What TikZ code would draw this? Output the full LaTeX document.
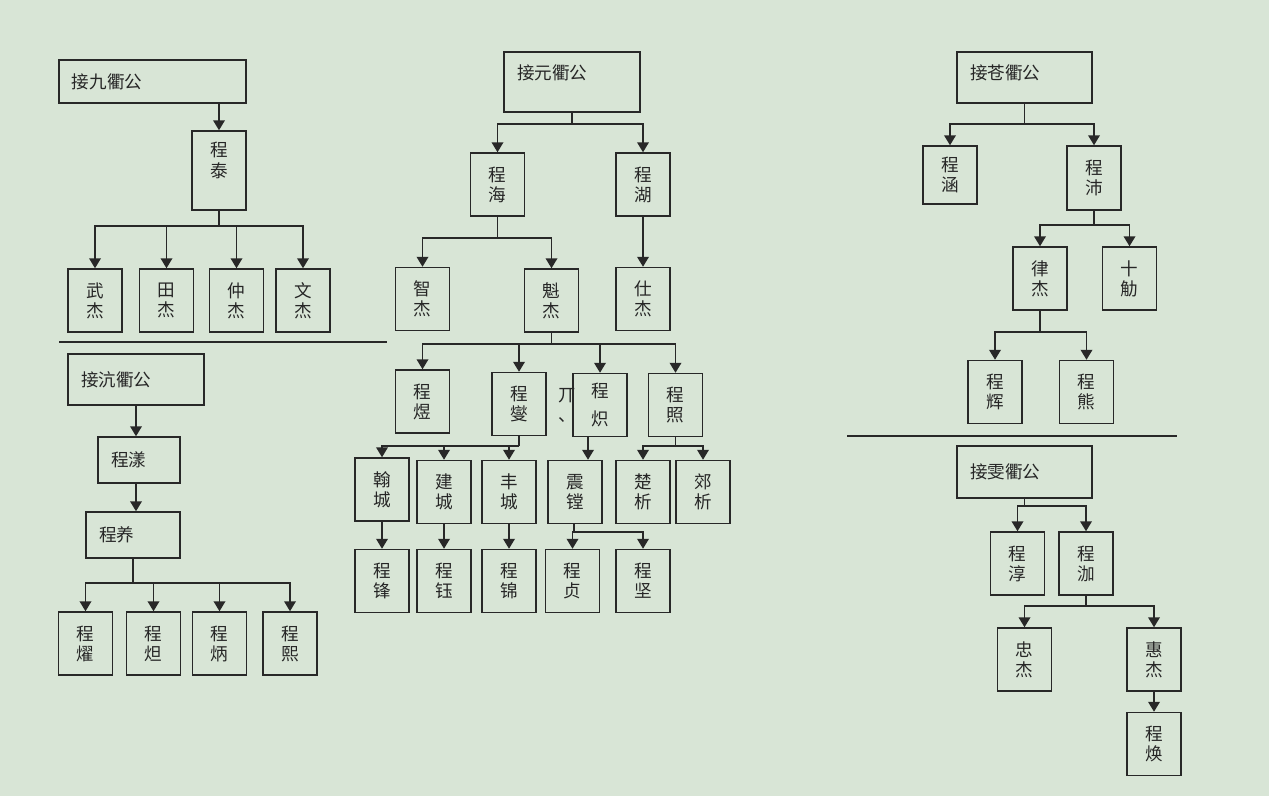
\documentclass[tikz,border=0pt]{standalone}
\usepackage{fontspec}
\setmainfont{Noto Sans CJK SC}
\usetikzlibrary{positioning,arrows.meta}
\definecolor{bgcol}{RGB}{216,229,214}
\definecolor{inkcol}{RGB}{40,40,40}
\tikzset{
  flowarrow/.style={-{Triangle[width=2.3mm,length=2mm]}, line width=1.1pt, draw=inkcol},
  stemline/.style={line width=0.6pt, draw=inkcol},
  sepline/.style={line width=0.6pt, draw=inkcol},
  kidbox/.style={draw=inkcol, line width=0.8pt, minimum width=10.8mm, minimum height=12.6mm, align=center, inner sep=0pt},
  headbox/.style={draw=inkcol, line width=0.8pt, align=left, inner xsep=2.6mm, inner ysep=0pt}
}

\begin{document}
\begin{tikzpicture}[x=0.2mm, y=-0.2mm, every node/.style={font=\fontsize{10}{11.4}\selectfont, text=black!85}]
  \fill[bgcol] (0,0) rectangle (1269,796);
  \useasboundingbox (0,0) rectangle (1269,796);

  \node[headbox, text width=32.2mm, minimum height=8.6mm] (jiujiu) at (152.5,81.5) {接九衢公};
  \node[kidbox, minimum height=15.8mm, text depth=4.3mm] (chengtai) at (219,170.5) {程\\泰};
  \node[kidbox] (wujie) at (95,300.5) {武\\杰};
  \node[kidbox] (tianjie) at (166.5,300.5) {田\\杰};
  \node[kidbox] (zhongjie) at (236.5,300.5) {仲\\杰};
  \node[kidbox] (wenjie) at (303,300.5) {文\\杰};
  \coordinate (taibus) at (219,226);
  \draw[flowarrow] (jiujiu.south -| chengtai.north) -- (chengtai.north);
  \draw[stemline] (chengtai) -- (taibus);
  \foreach \k in {wujie,tianjie,zhongjie,wenjie}
    \draw[flowarrow] (taibus) -| (\k.north);
  \draw[sepline] (59,342) -- (387,342);

  \node[headbox, text width=22mm, minimum height=10.2mm] (hanghead) at (136,379.5) {接沆衢公};
  \node[headbox, text width=11.2mm, minimum height=9.2mm] (chengyang) at (139,460) {程漾};
  \node[headbox, text width=13.6mm, minimum height=9.2mm] (chengyang2) at (133,535) {程养};
  \node[kidbox] (chengyao) at (85.5,643.5) {程\\燿};
  \node[kidbox] (chengda) at (153.5,643.5) {程\\炟};
  \node[kidbox] (chengbing) at (219.5,643.5) {程\\炳};
  \node[kidbox] (chengxi) at (290,643.5) {程\\熙};
  \coordinate (yangbus) at (133,583);
  \draw[flowarrow] (hanghead) -- (hanghead |- chengyang.north);
  \draw[flowarrow] (chengyang.south -| hanghead) -- (hanghead |- chengyang2.north);
  \draw[stemline] (chengyang2) -- (yangbus);
  \foreach \k in {chengyao,chengda,chengbing,chengxi}
    \draw[flowarrow] (yangbus) -| (\k.north);

  \node[headbox, text width=22mm, minimum height=12mm, text depth=4mm] (yuanhead) at (572,82) {接元衢公};
  \node[kidbox] (chenghai) at (497.5,184.5) {程\\海};
  \node[kidbox] (chenghu) at (643,184.5) {程\\湖};
  \node[kidbox] (zhijie) at (422.5,299) {智\\杰};
  \node[kidbox] (kuijie) at (551.5,300.5) {魁\\杰};
  \node[kidbox] (shijie) at (643,299) {仕\\杰};
  \coordinate (yuanbus) at (572,124);
  \coordinate (haibus) at (497.5,238);
  \draw[stemline] (yuanhead) -- (yuanbus);
  \draw[flowarrow] (yuanbus) -| (chenghai.north);
  \draw[flowarrow] (yuanbus) -| (chenghu.north);
  \draw[stemline] (chenghai) -- (haibus);
  \draw[flowarrow] (haibus) -| (zhijie.north);
  \draw[flowarrow] (haibus) -| (kuijie.north);
  \draw[flowarrow] (chenghu) -- (shijie);

  \node[align=center] (stray) at (567,405) {丌\\、};
  \node[kidbox] (chengyu) at (422.5,401.5) {程\\煜};
  \node[kidbox] (chengxie) at (519,404) {程\\燮};
  \node[kidbox] (chengchi) at (600,405) {程\\[1.6mm]炽};
  \node[kidbox] (chengzhao) at (675.5,405) {程\\照};
  \coordinate (kuibus) at (551.5,344);
  \draw[stemline] (kuijie) -- (kuibus);
  \foreach \k in {chengyu,chengxie,chengchi,chengzhao}
    \draw[flowarrow] (kuibus) -| (\k.north);

  \node[kidbox] (hancheng) at (382,489.5) {翰\\城};
  \node[kidbox] (jiancheng) at (444,492) {建\\城};
  \node[kidbox] (fengcheng) at (509,492) {丰\\城};
  \node[kidbox] (zhentang) at (575,492) {震\\镗};
  \node[kidbox] (chuxi) at (643,492) {楚\\析};
  \node[kidbox] (jiaoxi) at (703,492) {郊\\析};
  \coordinate (xiebus) at (519,446);
  \coordinate (chizhen) at (588,447);
  \coordinate (zhaobus) at (675.5,446);
  \draw[stemline] (chengxie) -- (xiebus);
  \foreach \k in {hancheng,jiancheng,fengcheng}
    \draw[flowarrow] (xiebus) -| (\k.north);
  \draw[flowarrow] (chengchi.south -| chizhen) -- (zhentang.north -| chizhen);
  \draw[stemline] (chengzhao) -- (zhaobus);
  \draw[flowarrow] (zhaobus) -| (chuxi.north);
  \draw[flowarrow] (zhaobus) -| (jiaoxi.north);

  \node[kidbox] (chengfeng) at (382,581) {程\\锋};
  \node[kidbox] (chengyu2) at (444,581) {程\\钰};
  \node[kidbox] (chengjin) at (509,581) {程\\锦};
  \node[kidbox] (chengzhen) at (572.5,581) {程\\贞};
  \node[kidbox] (chengjian) at (643,581) {程\\坚};
  \coordinate (zhenbus) at (574,532);
  \draw[flowarrow] (hancheng) -- (chengfeng);
  \draw[flowarrow] (jiancheng) -- (chengyu2);
  \draw[flowarrow] (fengcheng) -- (chengjin);
  \draw[stemline] (zhentang.south -| zhenbus) -- (zhenbus);
  \draw[flowarrow] (zhenbus) -| (chengzhen.north);
  \draw[flowarrow] (zhenbus) -| (chengjian.north);

  \node[headbox, text width=21.8mm, minimum height=10.2mm, text depth=2.2mm] (canghead) at (1024.5,77.5) {接苍衢公};
  \node[kidbox, minimum height=11.6mm] (chenghan) at (950,175) {程\\涵};
  \node[kidbox, minimum height=12.8mm] (chengpei) at (1094,178) {程\\沛};
  \node[kidbox] (lvjie) at (1040,278.5) {律\\杰};
  \node[kidbox] (shijin) at (1129.5,278.5) {十\\觔};
  \node[kidbox] (chenghui) at (995,392) {程\\辉};
  \node[kidbox] (chengxiong) at (1086.5,392) {程\\熊};
  \coordinate (cangbus) at (1024.5,124);
  \coordinate (peibus) at (1094,225);
  \coordinate (lvbus) at (1040,332);
  \draw[stemline] (canghead) -- (cangbus);
  \draw[flowarrow] (cangbus) -| (chenghan.north);
  \draw[flowarrow] (cangbus) -| (chengpei.north);
  \draw[stemline] (chengpei) -- (peibus);
  \draw[flowarrow] (peibus) -| (lvjie.north);
  \draw[flowarrow] (peibus) -| (shijin.north);
  \draw[stemline] (lvjie) -- (lvbus);
  \draw[flowarrow] (lvbus) -| (chenghui.north);
  \draw[flowarrow] (lvbus) -| (chengxiong.north);
  \draw[sepline] (847,436) -- (1177,436);

  \node[headbox, text width=21.8mm, minimum height=10.4mm] (wenhead) at (1024.5,472) {接雯衢公};
  \node[kidbox] (chengchun) at (1017.5,563.5) {程\\淳};
  \node[kidbox] (chengjia) at (1086,563.5) {程\\泇};
  \node[kidbox] (zhongjie2) at (1024.5,659.5) {忠\\杰};
  \node[kidbox] (huijie) at (1154,659.5) {惠\\杰};
  \node[kidbox] (chenghuan) at (1154,744) {程\\焕};
  \coordinate (wenbus) at (1024.5,506);
  \coordinate (jiabus) at (1086,606);
  \draw[stemline] (wenhead) -- (wenbus);
  \draw[flowarrow] (wenbus) -| (chengchun.north);
  \draw[flowarrow] (wenbus) -| (chengjia.north);
  \draw[stemline] (chengjia) -- (jiabus);
  \draw[flowarrow] (jiabus) -| (zhongjie2.north);
  \draw[flowarrow] (jiabus) -| (huijie.north);
  \draw[flowarrow] (huijie) -- (chenghuan);
\end{tikzpicture}
\end{document}
